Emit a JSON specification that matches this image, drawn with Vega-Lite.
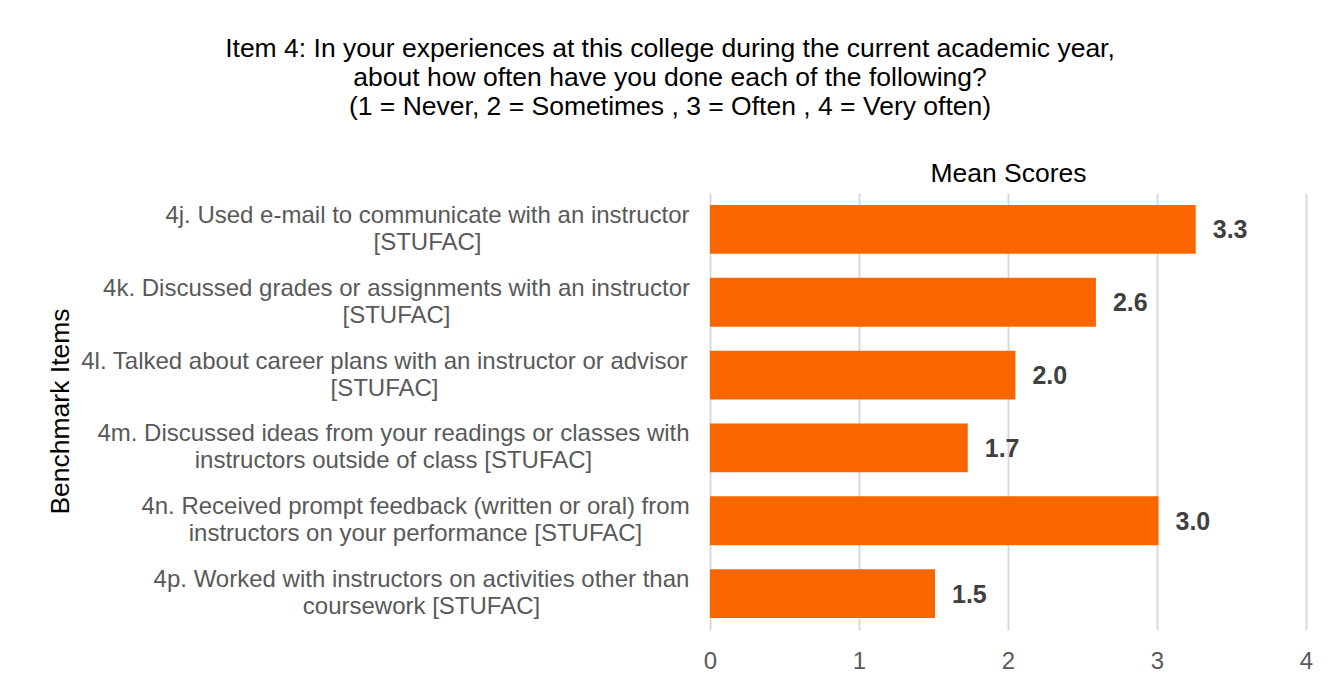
{
  "$schema": "https://vega.github.io/schema/vega-lite/v6.json",
  "width": 596,
  "height": 437,
  "autosize": {"type": "none"},
  "padding": {"left": 710, "top": 193, "right": 27, "bottom": 54},
  "background": "white",
  "config": {"view": {"stroke": null}, "font": "Liberation Sans"},
  "title": {
    "text": [
      "Item 4: In your experiences at this college during the current academic year,",
      "about how often have you done each of the following?",
      "(1 = Never, 2 = Sometimes , 3 = Often , 4 = Very often)"
    ],
    "font": "Liberation Sans",
    "fontSize": 26.5,
    "fontWeight": "normal",
    "color": "black",
    "lineHeight": 29,
    "anchor": "middle",
    "dx": -338,
    "offset": 40
  },
  "data": {
    "values": [
      {"item": "4j. Used e-mail to communicate with an instructor|[STUFAC]", "score": 3.26},
      {"item": "4k. Discussed grades or assignments with an instructor|[STUFAC]", "score": 2.59},
      {"item": "4l. Talked about career plans with an instructor or advisor|[STUFAC]", "score": 2.05},
      {"item": "4m. Discussed ideas from your readings or classes with|instructors outside of class [STUFAC]", "score": 1.73},
      {"item": "4n. Received prompt feedback (written or oral) from|instructors on your performance [STUFAC]", "score": 3.01},
      {"item": "4p. Worked with instructors on activities other than|coursework [STUFAC]", "score": 1.51}
    ]
  },
  "encoding": {
    "y": {
      "field": "item",
      "type": "nominal",
      "sort": null,
      "scale": {"paddingInner": 0.33, "paddingOuter": 0.165},
      "axis": {
        "title": "Benchmark Items",
        "titleFont": "Liberation Sans",
        "titleFontSize": 26.5,
        "titleFontWeight": "normal",
        "titleColor": "black",
        "titleX": -650,
        "titleY": 218,
        "titleAngle": -90,
        "titleAlign": "center",
        "titleBaseline": "middle",
        "domain": false,
        "ticks": false,
        "grid": false,
        "labelExpr": "split(datum.label, '|')",
        "labelFont": "Liberation Sans",
        "labelFontSize": 24,
        "labelColor": "#595959",
        "labelLineHeight": 27,
        "labelLimit": 800,
        "labelAlign": "center",
        "labelBaseline": "middle",
        "labelOffset": -13.5,
        "labelPadding": {
          "condition": [
            {"test": "datum.value == '4j. Used e-mail to communicate with an instructor|[STUFAC]'", "value": 283},
            {"test": "datum.value == '4k. Discussed grades or assignments with an instructor|[STUFAC]'", "value": 314},
            {"test": "datum.value == '4l. Talked about career plans with an instructor or advisor|[STUFAC]'", "value": 326},
            {"test": "datum.value == '4m. Discussed ideas from your readings or classes with|instructors outside of class [STUFAC]'", "value": 317},
            {"test": "datum.value == '4n. Received prompt feedback (written or oral) from|instructors on your performance [STUFAC]'", "value": 295}
          ],
          "value": 289
        }
      }
    }
  },
  "layer": [
    {
      "mark": {"type": "bar", "color": "#F96600"},
      "encoding": {
        "x": {
          "field": "score",
          "type": "quantitative",
          "scale": {"domain": [0, 4], "nice": false},
          "axis": {
            "orient": "bottom",
            "title": null,
            "values": [0, 1, 2, 3, 4],
            "grid": true,
            "gridColor": "#d9d9d9",
            "gridWidth": 2,
            "domain": false,
            "ticks": false,
            "labelFlush": false,
            "labelFont": "Liberation Sans",
            "labelFontSize": 24,
            "labelColor": "#595959",
            "labelPadding": 19
          }
        }
      }
    },
    {
      "mark": {"type": "text", "align": "left", "baseline": "middle", "dx": 17, "dy": 1, "fontWeight": "bold", "fontSize": 25, "color": "#404040", "font": "Liberation Sans"},
      "encoding": {
        "x": {
          "field": "score",
          "type": "quantitative",
          "axis": {
            "orient": "top",
            "title": "Mean Scores",
            "titleFont": "Liberation Sans",
            "titleFontSize": 26.5,
            "titleFontWeight": "normal",
            "titleColor": "black",
            "titlePadding": 6,
            "labels": false,
            "ticks": false,
            "domain": false,
            "grid": false
          }
        },
        "text": {"field": "score", "type": "quantitative", "format": ".1f"}
      }
    }
  ],
  "resolve": {"axis": {"x": "independent"}}
}
